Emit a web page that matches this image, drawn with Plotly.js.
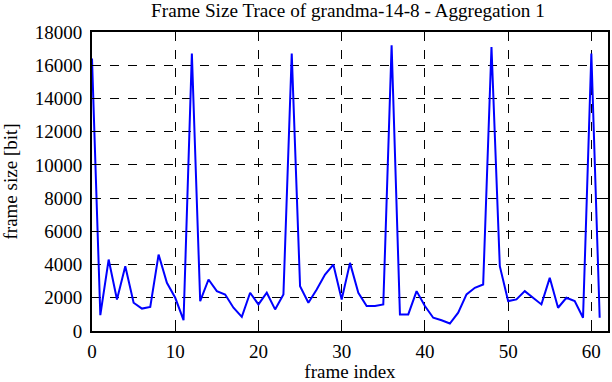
<!DOCTYPE html>
<html>
<head>
<meta charset="utf-8">
<script src="https://cdn.plot.ly/plotly-3.0.1.min.js"></script>
<style>html,body{margin:0;padding:0;background:#fff;}#chart{width:612px;height:382px;}</style>
</head>
<body>
<div id="chart"></div>
<script>
const frameIndex = [0,1,2,3,4,5,6,7,8,9,10,11,12,13,14,15,16,17,18,19,20,21,22,23,24,25,26,27,28,29,30,31,32,33,34,35,36,37,38,39,40,41,42,43,44,45,46,47,48,49,50,51,52,53,54,55,56,57,58,59,60,61];
const frameSize = [16400,950,4300,1900,3900,1700,1350,1450,4600,2900,2000,650,16700,1800,3100,2400,2200,1400,850,2300,1600,2300,1300,2200,16700,2700,1700,2500,3400,4000,1900,4100,2300,1500,1500,1600,17200,1000,1000,2400,1500,800,650,450,1100,2200,2600,2800,17100,3900,1800,1900,2400,2000,1600,3200,1400,2000,1800,800,16700,800];
const xTicks = [0,10,20,30,40,50,60];
const yTicks = [0,2000,4000,6000,8000,10000,12000,14000,16000,18000];

const fam = '"Liberation Serif", "Times New Roman", serif';
const font = {family: fam, size: 19, color: '#000'};
const titleFont = {family: fam, size: 19.2, color: '#000'};
const axisCommon = {
  showline: true, linecolor: '#000', linewidth: 2, mirror: 'allticks',
  ticks: 'inside', ticklen: 6, tickcolor: '#000', tickwidth: 1,
  showgrid: true, gridcolor: '#000', gridwidth: 1, griddash: 'dash',
  zeroline: false, tickfont: font
};
const data = [{
  x: frameIndex, y: frameSize, type: 'scatter', mode: 'lines',
  line: {color: '#0000ff', width: 2}
}];
const layout = {
  width: 612, height: 382,
  margin: {l: 92, r: 4, t: 32, b: 51},
  paper_bgcolor: '#fff', plot_bgcolor: '#fff',
  font: font,
  showlegend: false,
  title: {text: 'Frame Size Trace of grandma-14-8 - Aggregation 1', font: titleFont, x: 0.5686, xanchor: 'center', y: 0.973, yanchor: 'middle'},
  xaxis: Object.assign({}, axisCommon, {range: [0, 62], tickvals: xTicks, ticktext: xTicks.map(String), ticklabelstandoff: 2,
    title: {text: 'frame index', font: font, standoff: 2}}),
  yaxis: Object.assign({}, axisCommon, {range: [0, 18000], tickvals: yTicks, ticktext: yTicks.map(String), ticklabelstandoff: 4,
    title: {text: 'frame size [bit]', font: font, standoff: 12}})
};
Plotly.newPlot('chart', data, layout, {staticPlot: true, displayModeBar: false});
</script>
</body>
</html>
